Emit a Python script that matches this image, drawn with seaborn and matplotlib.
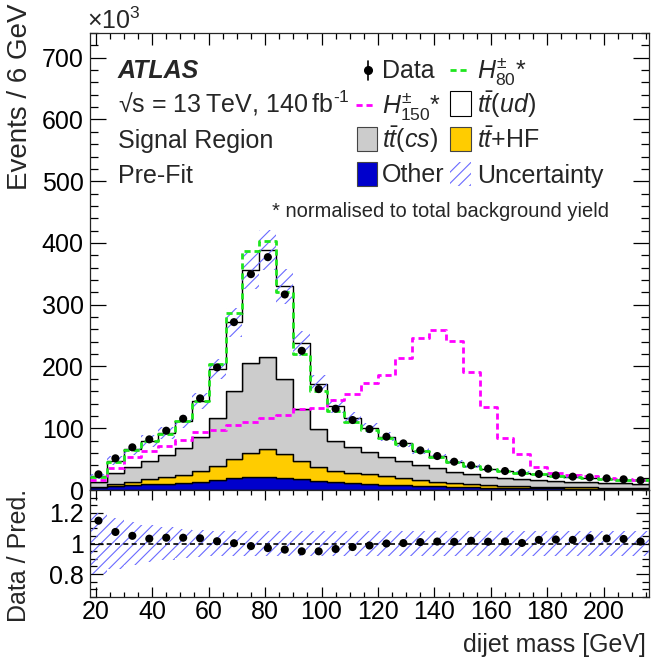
import numpy as np
import pandas as pd
import matplotlib
matplotlib.use("Agg")
import matplotlib.pyplot as plt
import seaborn as sns
from matplotlib.patches import Rectangle
from matplotlib.lines import Line2D
from matplotlib.ticker import MultipleLocator, FuncFormatter

# ---------------- data (x10^3 events per 6 GeV bin) ----------------
mass_edges = [18, 24, 30, 36, 42, 48, 54, 60, 66, 72, 78, 84, 90, 96, 102, 108, 114,
              120, 126, 132, 138, 144, 150, 156, 162, 168, 174, 180, 186, 192, 198,
              204, 210, 216]
mass_centres = [21, 27, 33, 39, 45, 51, 57, 63, 69, 75, 81, 87, 93, 99, 105, 111, 117,
                123, 129, 135, 141, 147, 153, 159, 165, 171, 177, 183, 189, 195, 201,
                207, 213]
data_obs = [25.4, 51.3, 69.1, 82.0, 96.0, 115.4, 148.4, 198.5, 271.8, 349.5, 377.0,
            316.6, 225.4, 163.4, 131.6, 113.3, 98.7, 86.3, 75.5, 64.2, 55.0, 45.8, 40.0,
            34.5, 30.7, 28.0, 25.9, 23.7, 21.6, 20.5, 18.9, 17.3, 15.7]
other = [4.5, 6.5, 8.0, 9.0, 10.5, 12.0, 13.5, 16.2, 18.9, 20.5, 21.6, 19.9, 17.3, 15.0,
         12.5, 11.0, 9.8, 8.5, 7.5, 6.6, 5.8, 5.1, 4.5, 4.0, 3.6, 3.2, 2.9, 2.6, 2.4,
         2.2, 2.0, 1.8, 1.7]
tt_hf = [1.0, 3.5, 5.5, 8.3, 11.1, 12.3, 17.8, 22.6, 30.7, 39.9, 44.2, 38.4, 30.2, 21.7,
         18.8, 17.0, 16.1, 14.2, 12.5, 9.6, 7.7, 5.7, 4.7, 3.6, 2.9, 2.8, 2.6, 2.4, 2.2,
         2.0, 1.9, 1.8, 1.6]
tt_cs = [8.0, 18.0, 24.2, 30.2, 35.0, 43.1, 54.7, 78.2, 111.1, 144.6, 150.0, 121.3, 83.1,
         61.5, 48.5, 42.0, 35.1, 31.3, 27.0, 24.3, 21.5, 18.9, 16.2, 14.0, 12.5, 11.5,
         10.5, 9.5, 8.7, 8.1, 7.6, 7.1, 6.7]
tt_ud = [8.6, 19.7, 28.1, 32.0, 35.9, 43.8, 57.5, 78.6, 110.6, 150.5, 172.9, 150.2, 106.9,
         74.0, 56.7, 46.0, 39.0, 32.3, 28.3, 23.1, 19.3, 15.6, 13.9, 12.5, 11.3, 10.4,
         9.3, 8.6, 7.8, 7.5, 6.8, 6.1, 5.5]
h80 = [21.6, 46.0, 65.5, 79.0, 91.0, 111.0, 144.0, 204.0, 286.0, 386.7, 403.0, 321.0,
       220.0, 160.7, 128.0, 110.0, 97.0, 85.0, 74.0, 63.0, 54.0, 45.5, 39.5, 34.5, 30.5,
       28.0, 25.5, 23.3, 21.3, 19.8, 18.3, 16.8, 15.5]
h150 = [16.2, 35.0, 54.0, 63.3, 72.0, 81.5, 94.0, 96.5, 106.0, 110.0, 116.5, 121.0, 130.5,
        132.0, 146.0, 156.0, 174.0, 186.0, 214.0, 246.5, 259.0, 241.6, 191.0, 134.8, 84.6,
        58.3, 37.8, 28.0, 24.5, 22.0, 19.5, 17.5, 16.0]
rel_unc = [0.20, 0.165, 0.14, 0.12, 0.105, 0.095, 0.09, 0.085, 0.085, 0.085, 0.085, 0.085,
           0.085, 0.085, 0.085, 0.085, 0.085, 0.085, 0.085, 0.085, 0.085, 0.085, 0.085,
           0.085, 0.085, 0.085, 0.085, 0.085, 0.085, 0.085, 0.085, 0.085, 0.085]

processes = ["ttud", "ttcs", "tthf", "other"]          # top -> bottom of the stack
proc_colors = {"ttud": "#ffffff", "ttcs": "#cccccc", "tthf": "#ffcc00", "other": "#0000cc"}
hatch_color = "#6a6aff"
green = "#1ee61e"
magenta = "#ff00ff"

# ---------------- style ----------------
sns.set_style("ticks")
plt.rcParams["font.family"] = ["Liberation Sans", "DejaVu Sans"]
plt.rcParams["mathtext.fontset"] = "custom"
plt.rcParams["mathtext.rm"] = "Liberation Sans"
plt.rcParams["mathtext.it"] = "Liberation Sans:italic"
plt.rcParams["mathtext.bf"] = "Liberation Sans:bold"
plt.rcParams["hatch.linewidth"] = 0.8
plt.rcParams["axes.linewidth"] = 0.9
FS = 18

W, H = 652, 665
fig = plt.figure(figsize=(W / 100, H / 100), dpi=100)
AX_L, AX_R, AX_T, AX_B, R_B = 90, 649, 33, 490, 597
ax = fig.add_axes([AX_L / W, 1 - AX_B / H, (AX_R - AX_L) / W, (AX_B - AX_T) / H])
rax = fig.add_axes([AX_L / W, 1 - R_B / H, (AX_R - AX_L) / W, (R_B - AX_B) / H], sharex=ax)


def af(px, py):
    """figure pixel -> main axes fraction"""
    return (px - AX_L) / (AX_R - AX_L), (AX_B - py) / (AX_B - AX_T)


# ---------------- stacked background ----------------
comp = {"ttud": tt_ud, "ttcs": tt_cs, "tthf": tt_hf, "other": other}
df = pd.DataFrame({
    "mass": np.tile(mass_centres, len(processes)),
    "events": np.concatenate([comp[p] for p in processes]),
    "process": np.repeat(processes, len(mass_centres)),
})
sns.histplot(data=df, x="mass", weights="events", hue="process", hue_order=processes,
             multiple="stack", bins=mass_edges, element="step", fill=True,
             palette=proc_colors, edgecolor="black", linewidth=1.0, alpha=1,
             legend=False, ax=ax)

total = np.sum([np.asarray(comp[p]) for p in processes], axis=0)
unc = np.asarray(rel_unc)

def step_y(v):
    v = np.asarray(v, dtype=float)
    return np.append(v, v[-1])

ax.fill_between(mass_edges, step_y(total * (1 - unc)), step_y(total * (1 + unc)),
                step="post", facecolor="none", edgecolor=hatch_color, hatch="///",
                linewidth=0, zorder=3)

sns.histplot(x=mass_centres, weights=h150, bins=mass_edges, element="step", fill=False,
             color=magenta, linewidth=2.0, linestyle=(0, (2.2, 1.4)), ax=ax, zorder=4)
sns.histplot(x=mass_centres, weights=h80, bins=mass_edges, element="step", fill=False,
             color=green, linewidth=2.0, linestyle=(0, (2.2, 1.4)), ax=ax, zorder=4)

sns.scatterplot(x=mass_centres, y=data_obs, color="black", s=34, edgecolor="none",
                ax=ax, zorder=6)

# ---------------- ratio panel ----------------
ratio = np.asarray(data_obs) / total
rax.fill_between(mass_edges, step_y(1 - unc), step_y(1 + unc), step="post",
                 facecolor="none", edgecolor=hatch_color, hatch="///", linewidth=0,
                 zorder=2)
rax.axhline(1.0, color="black", linestyle=(0, (3, 2)), linewidth=1.2, zorder=3)
sns.scatterplot(x=mass_centres, y=ratio, color="black", s=34, edgecolor="none",
                ax=rax, zorder=5)

# ---------------- axes ----------------
ax.set_xlim(18, 216)
ax.set_ylim(0, 740)
rax.set_ylim(0.65, 1.35)
ax.set_xlabel("")
ax.set_ylabel("")

ax.yaxis.set_major_locator(MultipleLocator(100))
ax.yaxis.set_minor_locator(MultipleLocator(20))
ax.xaxis.set_major_locator(MultipleLocator(20))
ax.xaxis.set_minor_locator(MultipleLocator(5))
rax.yaxis.set_major_locator(MultipleLocator(0.2))
rax.yaxis.set_minor_locator(MultipleLocator(0.05))
rax.yaxis.set_major_formatter(FuncFormatter(lambda v, p: f"{v:g}"))

for a in (ax, rax):
    a.tick_params(which="both", direction="in", top=True, right=True, width=0.9,
                  labelsize=FS, colors="black")
ax.tick_params(axis="y", which="major", length=11.5, pad=4.5)
ax.tick_params(axis="y", which="minor", length=5.8)
ax.tick_params(axis="x", which="major", length=8.6, labelbottom=False)
ax.tick_params(axis="x", which="minor", length=4.3)
rax.tick_params(axis="y", which="major", length=9.4, pad=4.5)
rax.tick_params(axis="y", which="minor", length=4.7)
rax.tick_params(axis="x", which="major", length=7.5, pad=2.5)
rax.tick_params(axis="x", which="minor", length=3.8)

ax.set_ylabel("Events / 6 GeV", fontsize=20, loc="top")
ax.yaxis.label.set_verticalalignment("center")
ax.yaxis.set_label_coords(af(20, 0)[0], af(0, 4)[1])

rax.set_ylabel("Data / Pred.", fontsize=FS)
rax.yaxis.label.set_verticalalignment("center")
rax.yaxis.set_label_coords((19 - AX_L) / (AX_R - AX_L), (R_B - 555) / (R_B - AX_B))

rax.set_xlabel("dijet mass [GeV]", fontsize=FS, loc="right")
rax.xaxis.set_label_coords((646 - AX_L) / (AX_R - AX_L), (R_B - 633) / (R_B - AX_B))

# x10^3 multiplier
ax.text(*af(87, 29), r"$\times$10$^{3}$", transform=ax.transAxes, fontsize=FS,
        ha="left", va="baseline")

# ---------------- labels ----------------
ax.text(*af(118, 78), "ATLAS", transform=ax.transAxes, fontsize=FS, fontweight="bold",
        fontstyle="italic", ha="left", va="baseline")
ax.text(*af(118, 113), "\u221As = 13\u2009TeV, 140\u2009fb$^{\\text{-1}}$",
        transform=ax.transAxes, fontsize=FS, ha="left", va="baseline")
ax.text(*af(118, 148), "Signal Region", transform=ax.transAxes, fontsize=FS,
        ha="left", va="baseline")
ax.text(*af(118, 183), "Pre-Fit", transform=ax.transAxes, fontsize=FS,
        ha="left", va="baseline")
ax.text(*af(272, 217), "* normalised to total background yield", transform=ax.transAxes,
        fontsize=14.5, ha="left", va="baseline")

# ---------------- legend (two columns, row-major) ----------------
C1_H, C1_T = (357, 377), 382
C2_H, C2_T = (450, 471), 477
rows = [78, 112.5, 148, 182.5]


def box(col, base, fc, ec="black", hatch=None, lw=0.8):
    x0, y0 = af(col[0], base + 3)
    x1, y1 = af(col[1], base - 21)
    r = Rectangle((x0, y0), x1 - x0, y1 - y0, transform=ax.transAxes, facecolor=fc,
                  edgecolor=ec, linewidth=lw, hatch=hatch, zorder=7)
    ax.add_patch(r)


def dash(col, base, color):
    (x0, y), (x1, _) = af(col[0], base - 8), af(col[1] - 2, base - 8)
    ax.add_line(Line2D([x0, x1], [y, y], transform=ax.transAxes, color=color,
                       linewidth=2.0, linestyle=(0, (2.2, 1.4)), zorder=7))


def label(col_t, base, s):
    ax.text(*af(col_t, base), s, transform=ax.transAxes, fontsize=FS, ha="left",
            va="baseline", zorder=7)


# row 1
xm, ym = af(367.5, 70)
_, yt = af(0, 60.5)
_, yb = af(0, 79.5)
ax.add_line(Line2D([xm, xm], [yb, yt], transform=ax.transAxes, color="black",
                   linewidth=1.2, zorder=7))
ax.add_line(Line2D([xm], [ym], transform=ax.transAxes, color="black", marker="o",
                   markersize=5.5, linestyle="none", zorder=7))
label(C1_T, rows[0], "Data")
dash(C2_H, rows[0], green)
label(C2_T, rows[0], r"$H^{\pm}_{80}$*")
# row 2
dash((356, 377), rows[1], magenta)
label(C1_T, rows[1], r"$H^{\pm}_{150}$*")
box(C2_H, rows[1], "white")
label(C2_T, rows[1], r"$t\bar{t}(ud)$")
# row 3
box(C1_H, rows[2], "#cccccc", ec="#444444")
label(C1_T, rows[2], r"$t\bar{t}(cs)$")
box(C2_H, rows[2], "#ffcc00", ec="#444444")
label(C2_T, rows[2], r"$t\bar{t}$+HF")
# row 4
box(C1_H, rows[3], "#0000cc", ec="#444444")
label(C1_T, rows[3], "Other")
box(C2_H, rows[3], "none", ec=hatch_color, hatch="///", lw=0)
label(C2_T, rows[3], "Uncertainty")

fig.savefig("out.png", dpi=100)
